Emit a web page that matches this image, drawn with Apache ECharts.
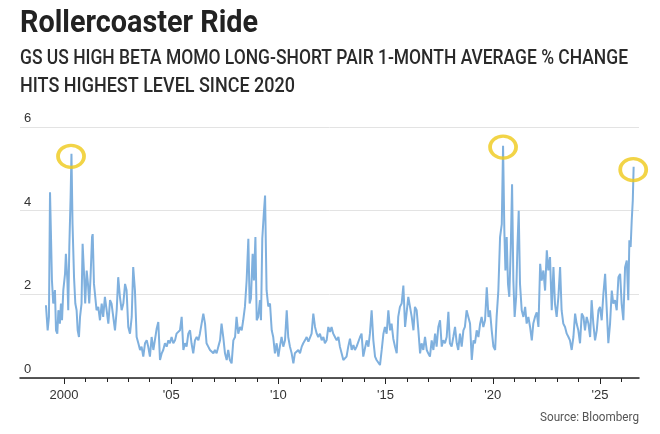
<!DOCTYPE html>
<html>
<head>
<meta charset="utf-8">
<script src="https://cdn.jsdelivr.net/npm/echarts@6/dist/echarts.min.js"></script>
<style>
  html, body { margin: 0; padding: 0; background: #fff; }
  #main { width: 660px; height: 434px; }
</style>
</head>
<body>
<div id="main"></div>
<script>
// GS US high beta momo long-short pair, 1-month average % change
// [decimal year, value], split by era
var era1999 = [[1999.16,1.74],[1999.19,1.78],[1999.24,1.14],[1999.30,1.46],[1999.35,4.44],[1999.39,3.52],[1999.44,2.33],[1999.50,1.78],[1999.58,2.10],[1999.63,1.14],[1999.69,1.06],[1999.74,1.62],[1999.81,1.30],[1999.86,1.78],[1999.91,1.38],[1999.97,2.10],[2000.05,2.49],[2000.09,2.97],[2000.16,2.33],[2000.20,1.62],[2000.25,3.13],[2000.31,4.32],[2000.35,5.36],[2000.40,3.68],[2000.47,2.41],[2000.53,1.78],[2000.59,1.62],[2000.64,1.14],[2000.70,0.98],[2000.75,1.46],[2000.82,1.78],[2000.87,3.21],[2000.93,2.57],[2000.99,1.78],[2001.06,2.57],[2001.12,2.25],[2001.18,1.78],[2001.24,2.41],[2001.31,3.37],[2001.34,3.44],[2001.40,2.25],[2001.46,1.94],[2001.52,1.62],[2001.60,1.70],[2001.68,1.38],[2001.76,1.78],[2001.83,1.46],[2001.91,1.94],[2001.99,1.62],[2002.07,1.30],[2002.15,1.86],[2002.22,1.78],[2002.30,1.46],[2002.38,1.14],[2002.46,1.62],[2002.53,2.41],[2002.61,1.94],[2002.69,1.62],[2002.77,1.78],[2002.85,2.25],[2002.92,2.10],[2003.00,1.22],[2003.08,1.06],[2003.16,1.46],[2003.23,2.65],[2003.31,2.10],[2003.39,0.98],[2003.47,0.83],[2003.55,0.67],[2003.62,0.75],[2003.70,0.51]];
var era2004 = [[2003.78,0.83],[2003.86,0.90],[2003.93,0.75],[2004.01,0.51],[2004.09,0.98],[2004.17,0.67],[2004.24,0.90],[2004.32,1.17],[2004.40,1.34],[2004.48,0.43],[2004.56,0.59],[2004.63,0.67],[2004.71,0.83],[2004.79,0.75],[2004.87,0.90],[2004.94,0.83],[2005.02,0.98],[2005.10,0.83],[2005.18,0.90],[2005.25,1.06],[2005.33,1.02],[2005.41,1.14],[2005.49,1.46],[2005.57,0.67],[2005.64,0.83],[2005.72,0.75],[2005.80,1.06],[2005.88,1.14],[2005.95,0.83],[2006.03,0.59],[2006.11,0.90],[2006.19,0.98],[2006.27,0.90],[2006.34,1.06],[2006.42,1.30],[2006.50,1.54],[2006.58,1.30],[2006.65,0.83],[2006.73,0.75],[2006.81,0.67],[2006.89,0.71],[2006.97,0.59],[2007.04,0.67],[2007.12,0.59],[2007.20,0.75],[2007.28,0.90],[2007.35,1.30],[2007.43,0.98],[2007.51,0.59],[2007.59,0.43],[2007.66,0.67],[2007.74,0.43],[2007.82,0.35],[2007.90,0.90],[2007.98,0.98],[2008.05,1.46],[2008.13,1.06],[2008.21,1.22],[2008.29,1.14],[2008.36,1.38],[2008.44,1.70],[2008.52,2.33]];
var era2009 = [[2008.60,3.33],[2008.66,1.78],[2008.72,1.90],[2008.80,2.97],[2008.86,2.33],[2008.93,3.37],[2008.99,1.38],[2009.06,1.46],[2009.14,1.86],[2009.19,1.38],[2009.25,3.33],[2009.32,3.92],[2009.38,4.36],[2009.45,2.10],[2009.53,1.71],[2009.61,1.78],[2009.69,1.14],[2009.76,0.98],[2009.84,0.59],[2009.92,0.83],[2010.00,0.51],[2010.07,0.75],[2010.15,0.98],[2010.23,0.75],[2010.31,0.90],[2010.39,1.62],[2010.46,0.98],[2010.54,0.75],[2010.62,0.59],[2010.70,0.35],[2010.77,0.59],[2010.85,0.63],[2010.93,0.67],[2011.01,0.59],[2011.09,0.75],[2011.16,0.83],[2011.24,0.90],[2011.32,0.98],[2011.40,0.87],[2011.47,0.90],[2011.55,1.06],[2011.63,1.54],[2011.71,1.22],[2011.79,1.06],[2011.86,0.98],[2011.94,1.06],[2012.02,0.90],[2012.10,0.98],[2012.17,0.83],[2012.25,0.90],[2012.33,1.22],[2012.41,1.10],[2012.48,1.22],[2012.56,1.06],[2012.64,0.98],[2012.72,0.90],[2012.80,0.98],[2012.87,0.75],[2012.95,0.59],[2013.03,0.43],[2013.11,0.43],[2013.18,0.51],[2013.26,0.75]];
var era2013 = [[2013.34,0.94],[2013.42,0.67],[2013.50,0.79],[2013.57,0.67],[2013.65,0.75],[2013.73,0.71],[2013.81,0.98],[2013.88,1.06],[2013.96,0.51],[2014.04,0.71],[2014.12,0.90],[2014.20,0.75],[2014.27,1.06],[2014.35,1.62],[2014.43,0.90],[2014.51,0.51],[2014.58,0.43],[2014.66,0.39],[2014.74,0.31],[2014.82,0.67],[2014.90,1.06],[2014.97,1.22],[2015.05,1.06],[2015.13,1.62],[2015.21,1.14],[2015.28,1.30],[2015.36,0.94],[2015.44,0.75],[2015.52,0.59],[2015.59,1.46],[2015.67,1.70],[2015.75,1.78],[2015.83,2.21],[2015.91,1.22],[2015.98,1.19],[2016.06,1.94],[2016.14,1.90],[2016.22,1.46],[2016.30,1.14],[2016.37,1.70],[2016.45,1.62],[2016.53,1.14],[2016.61,0.59],[2016.68,0.83],[2016.76,0.67],[2016.84,0.98],[2016.92,0.67],[2016.99,0.59],[2017.07,0.51],[2017.15,0.90],[2017.23,0.67],[2017.31,1.06],[2017.38,0.75],[2017.46,1.22],[2017.54,1.38],[2017.62,0.75],[2017.69,0.90],[2017.77,0.83],[2017.85,0.98],[2017.93,1.58],[2018.00,0.83],[2018.08,0.75],[2018.16,0.98],[2018.24,1.22],[2018.32,0.83],[2018.39,0.67],[2018.47,1.06],[2018.55,0.75],[2018.63,1.14],[2018.70,1.22],[2018.78,1.62],[2018.86,1.46]];
var era2019 = [[2018.94,1.30],[2019.02,0.43],[2019.10,0.90],[2019.17,0.83],[2019.25,1.14],[2019.33,0.98],[2019.41,1.30],[2019.48,1.46],[2019.56,1.22],[2019.64,1.38],[2019.72,2.17],[2019.80,1.46],[2019.87,1.62],[2019.95,1.14],[2020.03,0.75],[2020.11,0.67],[2020.18,1.46],[2020.26,2.09],[2020.34,3.37],[2020.42,3.68],[2020.48,5.55],[2020.54,3.52],[2020.59,2.57],[2020.65,3.37],[2020.71,2.25],[2020.77,1.94],[2020.84,3.13],[2020.90,4.63],[2020.96,2.33],[2021.02,1.46],[2021.09,1.94],[2021.15,3.13],[2021.21,4.00],[2021.27,2.25],[2021.35,1.62],[2021.43,1.46],[2021.51,1.70],[2021.58,1.30],[2021.66,1.46],[2021.74,1.22],[2021.82,0.90],[2021.89,1.30],[2021.97,1.46],[2022.05,1.57],[2022.13,1.22],[2022.21,2.73],[2022.28,2.33],[2022.36,2.57],[2022.44,2.09],[2022.52,3.05],[2022.59,2.57]];
var era2023 = [[2022.67,2.89],[2022.75,1.62],[2022.83,2.65],[2022.90,1.78],[2022.98,1.46],[2023.06,1.94],[2023.14,2.65],[2023.21,1.62],[2023.29,1.30],[2023.37,1.22],[2023.45,1.06],[2023.53,0.98],[2023.60,0.90],[2023.68,0.67],[2023.76,0.98],[2023.84,1.54],[2023.91,1.30],[2023.99,1.14],[2024.07,0.83],[2024.15,1.54],[2024.23,1.46],[2024.30,1.14],[2024.38,1.46],[2024.46,1.30],[2024.54,0.98],[2024.61,1.86],[2024.69,1.30],[2024.77,0.90],[2024.85,1.14],[2024.93,1.62],[2025.00,1.70],[2025.08,1.38],[2025.16,2.02],[2025.24,2.49],[2025.31,1.70],[2025.39,0.83],[2025.47,1.30],[2025.55,2.09],[2025.62,1.78],[2025.70,1.86],[2025.78,1.62],[2025.86,2.41],[2025.94,2.49],[2026.01,1.78],[2026.09,1.38],[2026.17,2.65],[2026.25,2.81],[2026.32,1.86],[2026.37,3.29],[2026.43,3.13],[2026.48,3.76],[2026.53,4.24],[2026.57,5.05]];

// the three circled highs
var peaks = [[2000.33, 5.30], [2020.48, 5.52], [2026.55, 4.98]];

var yearTicks = [];
for (var y = 2000; y <= 2026; y++) yearTicks.push(y);
var labelYears = [2000, 2005, 2010, 2015, 2020, 2025];

var titleText = 'Rollercoaster Ride';
var subLines = ['GS US HIGH BETA MOMO LONG-SHORT PAIR 1-MONTH AVERAGE % CHANGE', 'HITS HIGHEST LEVEL SINCE 2020'];
var sourceText = 'Source: Bloomberg';

var titleFont = 'bold 31px Roboto, "Liberation Sans", sans-serif';
var subFont = '500 21px Roboto, "Liberation Sans", sans-serif';
var srcFont = '13px Roboto, "Liberation Sans", sans-serif';

// the original type is a condensed face; squeeze a normal one to the same width
var measureCtx = document.createElement('canvas').getContext('2d');
function squeeze(text, font, width) {
    measureCtx.font = font;
    return width / measureCtx.measureText(text).width;
}

function yearLabel(v) {
    v = Math.round(v);
    if (v === 2000) return '2000';
    return "'" + String(v).slice(2);
}

var myChart = echarts.init(document.getElementById('main'));
var series = era1999.concat(era2004, era2009, era2013, era2019, era2023);

option = {
    animation: false,
    backgroundColor: '#fff',
    graphic: [{
        type: 'text', x: 20, y: 24, scaleX: squeeze(titleText, titleFont, 238),
        style: { text: titleText, font: titleFont, fill: '#222', textVerticalAlign: 'middle' }
    }, {
        type: 'text', x: 20, y: 59, scaleX: squeeze(subLines[0], subFont, 608),
        style: { text: subLines[0], font: subFont, fill: '#2a2a2a', textVerticalAlign: 'middle' }
    }, {
        type: 'text', x: 20, y: 87, scaleX: squeeze(subLines[1], subFont, 275),
        style: { text: subLines[1], font: subFont, fill: '#2a2a2a', textVerticalAlign: 'middle' }
    }, {
        type: 'text', x: 639, y: 418, scaleX: squeeze(sourceText, srcFont, 99),
        style: { text: sourceText, font: srcFont, fill: '#555', textAlign: 'right', textVerticalAlign: 'middle' }
    }],
    grid: { left: 20, right: 21, top: 127, bottom: 56 },
    xAxis: [{
        type: 'value',
        min: 1997.95,
        max: 2026.82,
        axisLine: { lineStyle: { color: '#222', width: 1.5 } },
        axisTick: { customValues: labelYears, length: 6, lineStyle: { color: '#222' } },
        axisLabel: {
            customValues: labelYears,
            formatter: yearLabel,
            margin: 11,
            fontSize: 13,
            fontFamily: '"Liberation Sans", sans-serif',
            color: '#333'
        },
        splitLine: { show: false }
    }, {
        type: 'value',
        position: 'bottom',
        min: 1997.95,
        max: 2026.82,
        axisLine: { show: false },
        axisTick: { customValues: yearTicks, length: 4, lineStyle: { color: '#222' } },
        axisLabel: { show: false },
        splitLine: { show: false }
    }],
    yAxis: {
        type: 'value',
        min: 0,
        max: 6,
        interval: 2,
        axisLine: { show: false },
        axisTick: { show: false },
        axisLabel: {
            inside: true,
            margin: 4,
            verticalAlign: 'bottom',
            padding: [0, 0, 2, 0],
            fontSize: 13,
            fontFamily: '"Liberation Sans", sans-serif',
            color: '#333'
        },
        splitLine: { lineStyle: { color: '#e3e3e3', width: 1 } }
    },
    series: [{
        name: 'HighBetaMomo',
        type: 'line',
        data: series,
        showSymbol: false,
        lineStyle: { color: '#7fb0de', width: 2 },
        z: 2
    }, {
        name: 'Peaks',
        type: 'scatter',
        data: peaks,
        symbol: 'circle',
        symbolSize: [26, 22],
        itemStyle: { color: 'rgba(0,0,0,0)', borderColor: '#efc919', borderWidth: 3.5 },
        z: 3
    }]
};

myChart.setOption(option);
</script>
</body>
</html>
